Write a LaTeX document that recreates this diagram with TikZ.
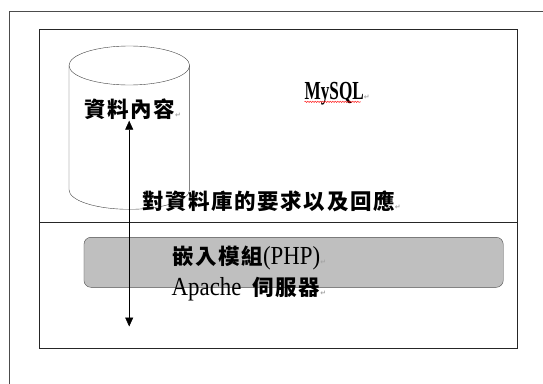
\documentclass[tikz,border=0pt]{standalone}
\usepackage{fontspec}
\usetikzlibrary{arrows.meta,decorations.pathmorphing}
\newfontfamily\cjk[LetterSpace=7.5]{Noto Sans CJK TC}
\newfontfamily\latinfont[FakeStretch=0.88]{Liberation Serif}
\newfontfamily\boldserif[FakeStretch=0.66]{Liberation Serif}
\newfontfamily\markfont{DejaVu Sans}
\newcommand{\pmark}{{\markfont\fontsize{7}{7}\selectfont\color{black!35}↵}}
\begin{document}
\begin{tikzpicture}[x=1pt,y=-1pt]
		\tikzstyle{frame}=[draw=black!70,line width=0.9pt]
		\tikzstyle{box}=[draw=black!85,line width=0.8pt]
		\tikzstyle{label}=[inner sep=0pt,font=\fontsize{21.5}{24}\selectfont]
		\tikzstyle{latin}=[inner sep=0pt,font=\fontsize{26}{30}\selectfont]
		\tikzstyle{rim}=[x radius=60.3pt,y radius=19.5pt]
		\useasboundingbox (0,0) rectangle (543,383);
		\draw[frame] (9.5,400) -- (9.5,11.7) -- (560,11.7);
		\draw[box] (39.5,29) rectangle (517.3,348.3);
		\draw[box] (39.5,222.7) -- (517.3,222.7);
		\coordinate(dbtop)at(129.3,65.5);
		\coordinate(dbbot)at(129.3,189.8);
		\draw[black!75,thin] (dbtop) ellipse[rim];
		\draw[black!75,thin] ([xshift=-60.3pt]dbtop) -- ([xshift=-60.3pt]dbbot) arc[rim,start angle=180,end angle=360] -- ([xshift=60.3pt]dbtop);
		\node[draw=black!70,fill=black!25,rounded corners=7pt,minimum width=419.3pt,minimum height=50pt,inner sep=0pt](php)at(293.6,262.3){};
		\coordinate(qtop)at(129.2,120.7);
		\coordinate(qbot)at(129.2,326.5);
		\draw[{Triangle[width=8pt,length=9pt]}-{Triangle[width=8pt,length=9pt]},semithick] (qtop) -- (qbot);
		\node[label,anchor=west](data)at(84,109){\cjk\bfseries 資料內容\pmark};
		\node[latin,anchor=west](mysql)at(304.5,94){\boldserif\bfseries MySQL\pmark};
		\draw[red,decorate,decoration={snake,amplitude=0.7pt,segment length=2.5pt}] ([yshift=-2pt]mysql.base west) -- ([xshift=-9pt,yshift=-2pt]mysql.base east);
		\node[label,anchor=west](req)at(142,201){\cjk\bfseries 對資料庫的要求以及回應\pmark};
		\node[label,anchor=west](mod)at(172,258.3){\cjk\bfseries 嵌入模組{\latinfont\mdseries\fontsize{26}{30}\selectfont(PHP)}\pmark};
		\node[latin,anchor=west](apache)at(171.5,289){\latinfont Apache\hspace{11pt}\fontsize{21.5}{24}\selectfont\cjk\bfseries 伺服器\pmark};
		\end{tikzpicture}
\end{document}
